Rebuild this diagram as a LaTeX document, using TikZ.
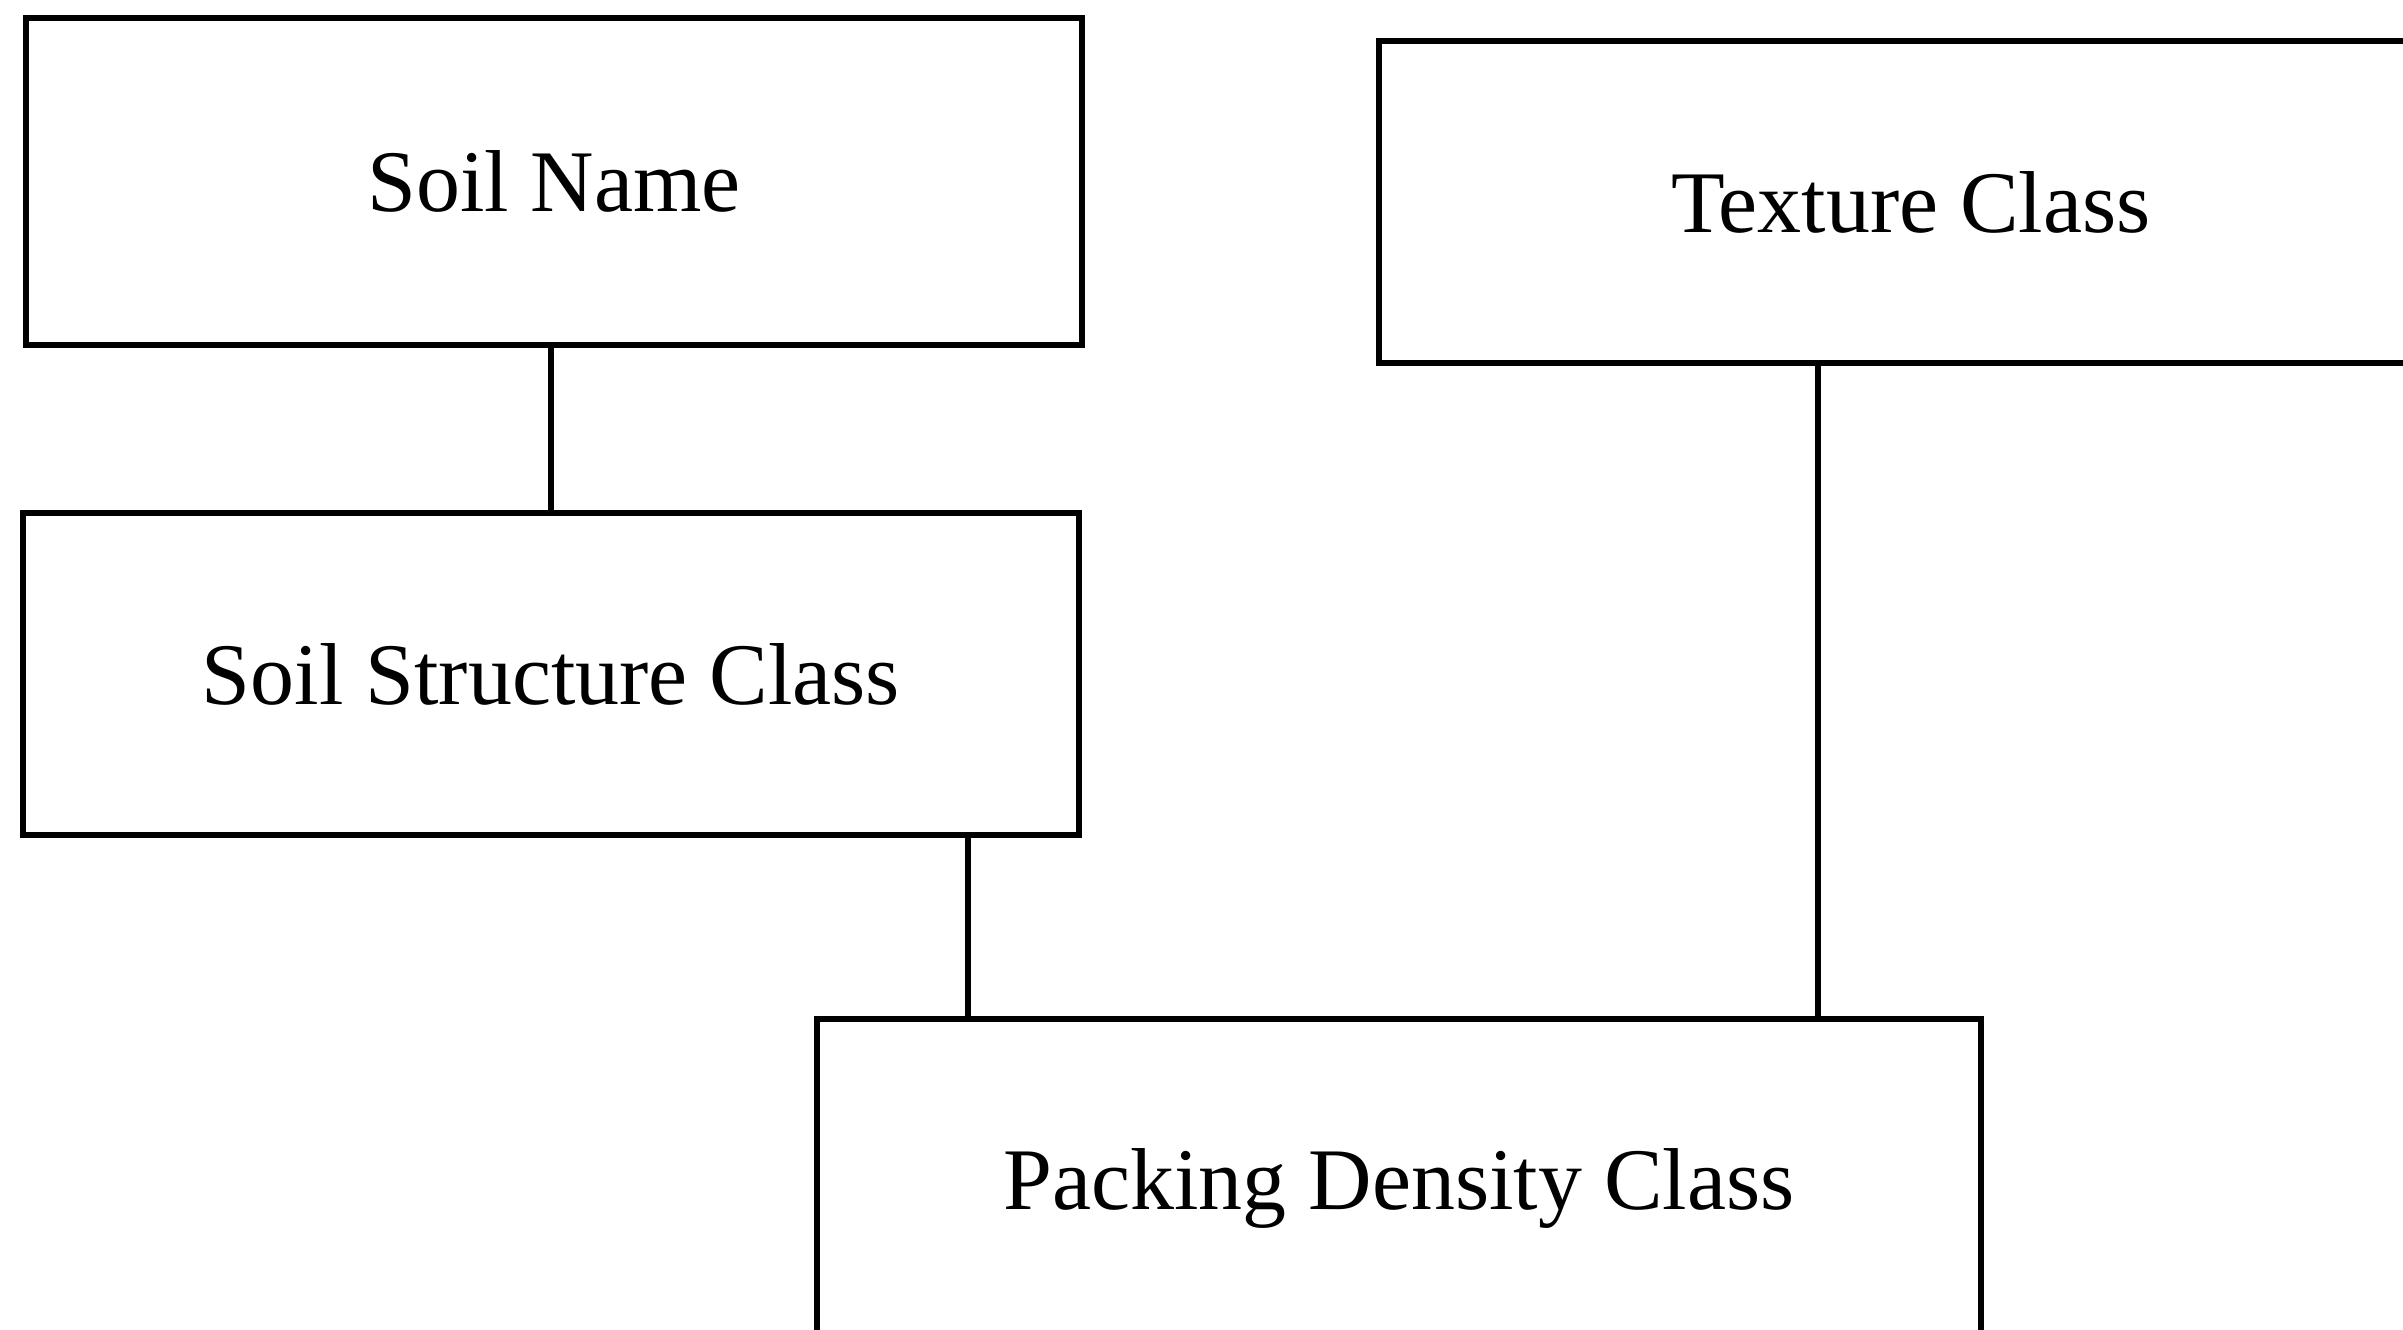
\documentclass[tikz,border=0pt]{standalone}
\usepackage{fontspec}
\setmainfont{Liberation Serif}
\usepackage{tikz}
\usetikzlibrary{positioning}

\begin{document}
\begin{tikzpicture}[
  every node/.style={font=\fontsize{25}{30}\selectfont},
  box/.style={rectangle, draw, line width=1.6pt, minimum width=10.56cm,
              minimum height=3.22cm, align=center},
  link/.style={draw, line width=1.6pt},
]
  \useasboundingbox (0,0) rectangle (24.03,13.30);
  \clip (0,0) rectangle (24.03,13.30);

  \node[box, minimum height=3.27cm] (name) at (5.54,11.485) {Soil Name};
  \node[box, minimum width=10.64cm] (texture) at (19.11,11.28) {Texture Class};
  \node[box] (structure) at (5.51,6.56) {Soil Structure Class};
  \node[box, minimum width=11.64cm, minimum height=3.38cm] (packing) at (13.99,1.42) {Packing Density Class};

  \draw[link] ([xshift=-0.03cm]name.south) -- ([xshift=-0.03cm]name.south |- structure.north);
  \draw[link] ([xshift=-4.31cm]packing.north |- structure.south) -- ([xshift=-4.31cm]packing.north);
  \draw[link] ([xshift=-0.93cm]texture.south) -- ([xshift=-0.93cm]texture.south |- packing.north);
\end{tikzpicture}
\end{document}
